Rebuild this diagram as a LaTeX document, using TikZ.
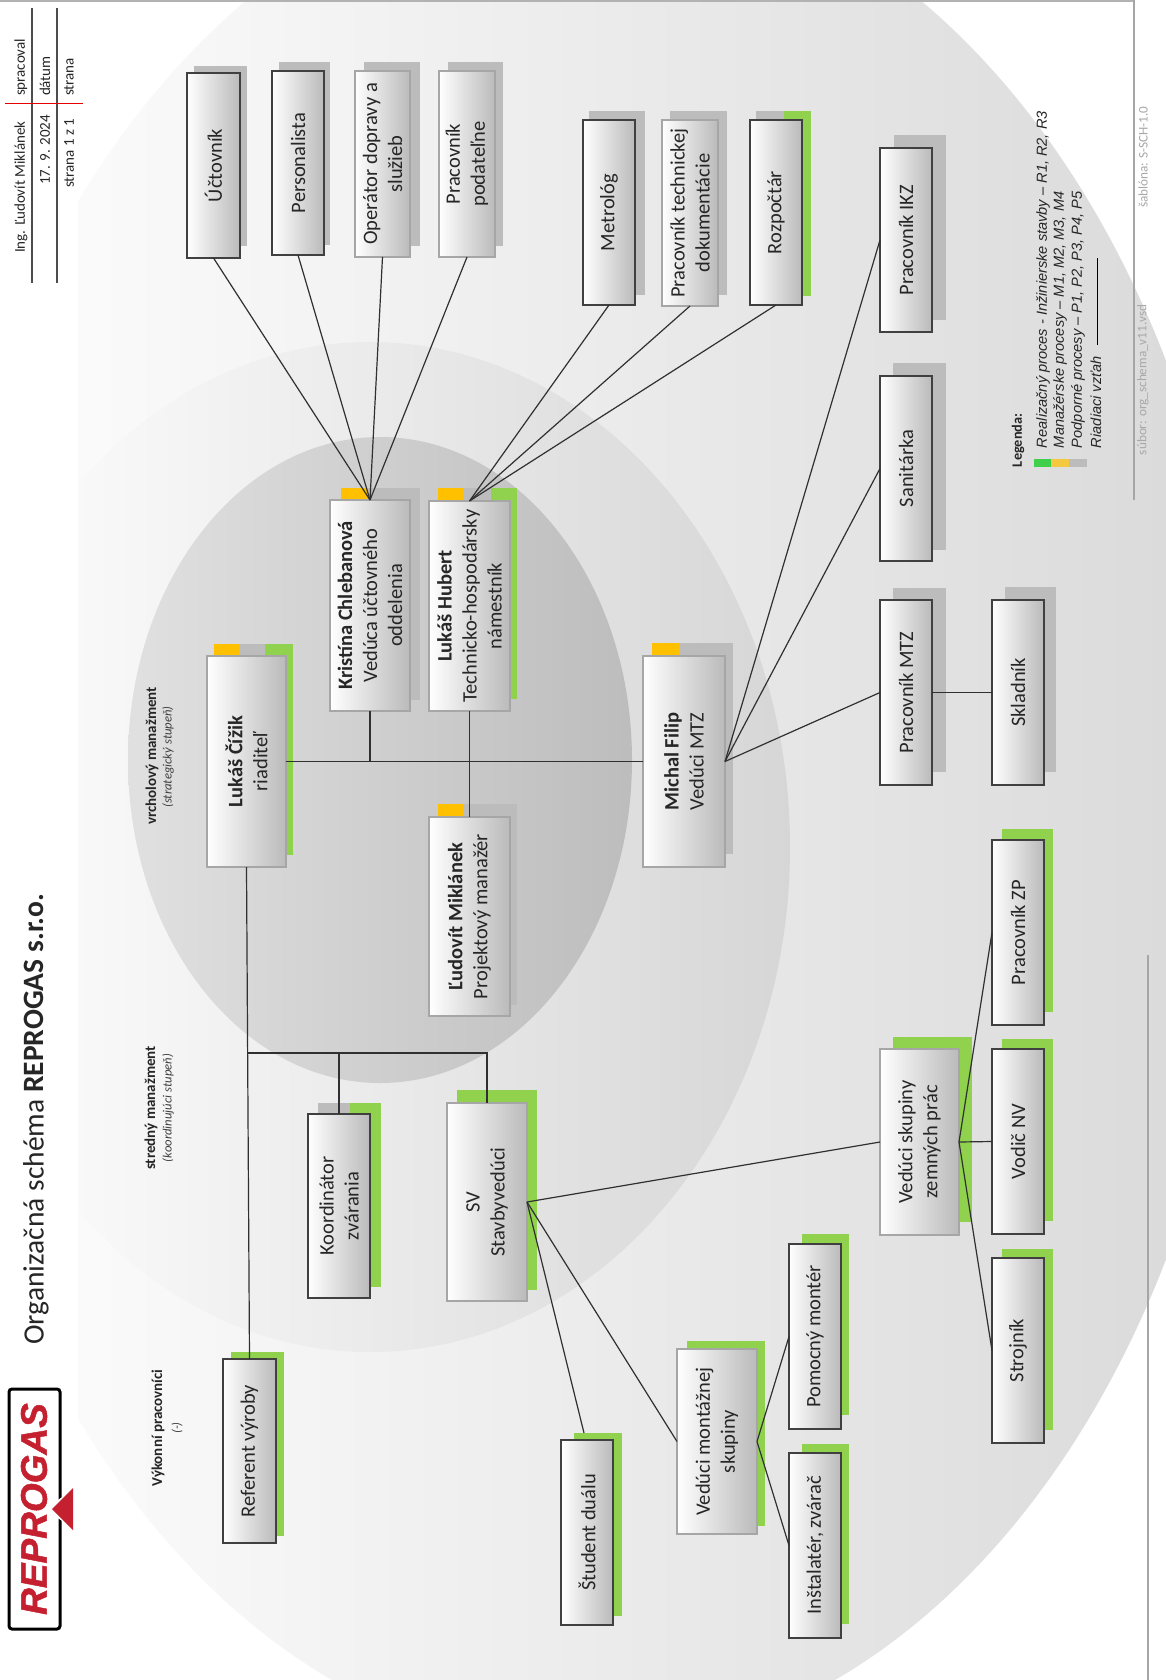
\documentclass[tikz,border=0pt]{standalone}
\usepackage{fontspec}
\setmainfont{Carlito}
\newfontfamily\legfont{Liberation Sans}
\newfontfamily\logofont[FakeBold=1.3]{Liberation Sans Bold Italic}
\definecolor{shgray}{HTML}{BCBCBC}
\definecolor{shgreen}{HTML}{90D14E}
\definecolor{shorange}{HTML}{FFC000}
\definecolor{logored}{HTML}{C4202F}
\definecolor{linedark}{HTML}{303030}
\definecolor{boxdark}{HTML}{404040}
\definecolor{boxlight}{HTML}{A6A6A6}
\definecolor{foot}{HTML}{A8A8A8}
\definecolor{leggreen}{HTML}{3FCF4A}
\definecolor{legyellow}{HTML}{F5C842}
\tikzset{
  boxbase/.style={rectangle,inner sep=0pt,outer sep=0pt,line width=1.2pt,left color=white,right color=black!27},
  darkbox/.style={boxbase,draw=boxdark},
  lightbox/.style={boxbase,draw=boxlight},
  boxtext/.style={rotate=90,align=center,text=black!85,font=\fontsize{20.5}{25}\selectfont},
  conn/.style={draw=linedark,line width=1.2pt},
  trunk/.style={draw=linedark,line width=1.5pt},
  txt/.style={rotate=90,inner sep=0pt,outer sep=0pt},
}
\newcommand{\orgbox}[7]{%
  \pgfmathsetmacro{\bw}{#4-#2}\pgfmathsetmacro{\bh}{#5-#3}%
  \node[#6,minimum width=\bw pt,minimum height=\bh pt,label={[boxtext]center:{#7}}] (#1) at ({(#2+#4)/2},{(#3+#5)/2}) {};}
\begin{document}
\begin{tikzpicture}[x=1pt,y=-1pt]
\useasboundingbox (0,0) rectangle (1166,1680);
\fill[white] (0,0) rectangle (1166,1680);
% background ellipses
\begin{scope}
\clip (78,0) rectangle (1166,1680);
\shade[left color=white,right color=black!15] (583.5,810) ellipse [x radius=663,y radius=940];
\shade[left color=white,middle color=black!6,right color=black!16] (370,847) ellipse [x radius=420,y radius=505];
\end{scope}
\shade[left color=black!12,right color=black!26] (380,760) ellipse [x radius=252,y radius=323];
% frame
\fill[black!30] (0,0) rectangle (1135,2);
\draw[black!35,line width=1.3pt] (1134,0) -- (1134,500);
\draw[black!35,line width=1.3pt] (1148,955) -- (1148,1680);
% header
\draw[black!70,line width=1.2pt] (32,8) -- (32,283);
\draw[black!70,line width=1.2pt] (57,8) -- (57,283);
\draw[red!90!black,line width=1pt] (5,104) -- (83,104);
\tikzset{hd/.style={txt,anchor=west,font=\fontsize{15}{16}\selectfont,text=black!85}}
\node[hd] (h1) at (21,96) {spracoval};
\node[hd] (h2) at (45,96) {dátum};
\node[hd] (h3) at (69,96) {strana};
\node[hd] (h4) at (21,253) {Ing. Ľudovít Miklánek};
\node[hd] (h5) at (45,185) {17. 9. 2024};
\node[hd] (h6) at (69,188) {strana 1 z 1};
% title
\node[txt,font=\fontsize{29.5}{34}\selectfont,text=black!85] (title) at (36,1119) {Organizačná schéma \textbf{REPROGAS s.r.o.}};
% logo
\draw[black,line width=3pt,rounded corners=3pt,fill=white] (9,1389) rectangle (60,1629);
\fill[white] (45,1509) -- (78,1486) -- (78,1532) -- cycle;
\fill[logored] (52,1509) -- (73,1488) -- (73,1530) -- cycle;
\node[txt,font=\logofont\fontsize{37}{40}\selectfont,text=logored] (logo) at (34,1509) {REPROGAS};
% level labels
\tikzset{lv/.style={txt,font=\bfseries\fontsize{15}{16}\selectfont,text=black!85},lvs/.style={txt,font=\itshape\fontsize{12.7}{14}\selectfont,text=black!75}}
\node[lv] (l1) at (152,756) {vrcholový manažment};
\node[lvs] (l2) at (168,757) {(strategický stupeň)};
\node[lv] (l3) at (151,1108) {stredný manažment};
\node[lvs] (l4) at (168,1108) {(koordinujúci stupeň)};
\node[lv] (l5) at (158,1428) {Výkonní pracovníci};
\node[lvs] (l6) at (177,1428) {(-)};
% shadows
\fill[shgray] (194,66) rectangle (247,246);
\fill[shgray] (279,62) rectangle (330,245);
\fill[shgray] (364,62) rectangle (420,246);
\fill[shgray] (448,62) rectangle (503,246);
\fill[shgray] (589,111) rectangle (645,295);
\fill[shgray] (670,111) rectangle (727,295);
\fill[shgray] (756,111) rectangle (785,140);
\fill[shgreen] (784,111) rectangle (811,296);
\fill[shgray] (894,135) rectangle (946,320);
\fill[shgray] (893,363) rectangle (946,550);
\fill[shgray] (893,588) rectangle (946,772);
\fill[shgray] (1005,587) rectangle (1056,772);
\fill[shgreen] (1002,829) rectangle (1053,1012);
\fill[shgreen] (1002,1039) rectangle (1053,1221);
\fill[shgreen] (1002,1249) rectangle (1053,1430);
\fill[shgreen] (893,1037) rectangle (972,1222);
\fill[shgreen] (802,1234) rectangle (849,1415);
\fill[shgreen] (802,1444) rectangle (849,1624);
\fill[shgreen] (687,1341) rectangle (765,1526);
\fill[shgreen] (574,1433) rectangle (622,1616);
\fill[shgreen] (231,1352) rectangle (284,1536);
\fill[shgreen] (457,1090) rectangle (537,1290);
\fill[shgray] (318,1103) rectangle (350,1130);
\fill[shgreen] (350,1103) rectangle (381,1287);
% Čížik
\fill[shgray] (240,644) rectangle (266,670);
\fill[shorange] (214,644) rectangle (240,670);
\fill[shgreen] (265,644) rectangle (293,855);
% Kristína
\fill[shgray] (368,488) rectangle (420,700);
\fill[shorange] (341,488) rectangle (368,510);
% Hubert
\fill[shgray] (464,488) rectangle (491,510);
\fill[shorange] (438,488) rectangle (464,510);
\fill[shgreen] (491,488) rectangle (517,699);
% Ľudovít
\fill[shgray] (464,804) rectangle (517,1005);
\fill[shorange] (438,804) rectangle (464,825);
% Michal
\fill[shgray] (680,643) rectangle (733,854);
\fill[shorange] (652,643) rectangle (680,670);
% boxes
\orgbox{uct}{187}{73}{240}{258}{darkbox}{Účtovník}
\orgbox{per}{272}{71}{324}{255}{darkbox}{Personalista}
\orgbox{ope}{355}{71}{410}{257}{lightbox}{Operátor dopravy a\\služieb}
\orgbox{pod}{439}{71}{495}{257}{lightbox}{Pracovník\\podateľne}
\orgbox{met}{583}{120}{635}{305}{darkbox}{Metrológ}
\orgbox{tec}{662}{120}{718}{306}{lightbox}{Pracovník technickej\\dokumentácie}
\orgbox{roz}{750}{120}{802}{305}{darkbox}{Rozpočtár}
\orgbox{ikz}{880}{148}{932}{332}{darkbox}{Pracovník IKZ}
\orgbox{san}{880}{376}{932}{561}{darkbox}{Sanitárka}
\orgbox{mtz}{880}{600}{932}{785}{darkbox}{Pracovník MTZ}
\orgbox{skl}{992}{600}{1044}{785}{darkbox}{Skladník}
\orgbox{zp}{992}{840}{1044}{1025}{darkbox}{Pracovník ZP}
\orgbox{vod}{992}{1049}{1044}{1234}{darkbox}{Vodič NV}
\orgbox{str}{992}{1258}{1044}{1443}{darkbox}{Strojník}
\orgbox{vsk}{880}{1049}{959}{1235}{lightbox}{Vedúci skupiny\\zemných prác}
\orgbox{pom}{789}{1244}{841}{1429}{darkbox}{Pomocný montér}
\orgbox{ins}{789}{1453}{841}{1638}{darkbox}{Inštalatér, zvárač}
\orgbox{vmo}{677}{1349}{757}{1534}{lightbox}{Vedúci montážnej\\skupiny}
\orgbox{stu}{561}{1440}{613}{1625}{darkbox}{Študent duálu}
\orgbox{ref}{223}{1359}{276}{1543}{darkbox}{Referent výroby}
\orgbox{sv}{447}{1103}{527}{1301}{lightbox}{SV\\Stavbyvedúci}
\orgbox{koo}{308}{1114}{370}{1298}{darkbox}{Koordinátor\\zvárania}
\orgbox{cik}{207}{656}{286}{867}{lightbox}{\textbf{Lukáš Čížik}\\riaditeľ}
\orgbox{kri}{330}{500}{410}{711}{lightbox}{\textbf{Kristína Chlebanová}\\Vedúca účtovného\\oddelenia}
\orgbox{hub}{429}{501}{510}{711}{lightbox}{\textbf{Lukáš Hubert}\\Technicko-hospodársky\\námestník}
\orgbox{lud}{429}{817}{510}{1016}{lightbox}{\textbf{Ľudovít Miklánek}\\Projektový manažér}
\orgbox{mic}{643}{656}{725}{867}{lightbox}{\textbf{Michal Filip}\\Vedúci MTZ}
% connectors
\coordinate (br) at (246.5,1053);
\coordinate (stutop) at (584,1433);
\draw[trunk] (cik.east) -- (mic.west);
\draw[conn] (kri.south) -- (kri.south |- cik.east);
\draw[conn] (hub.south) -- (lud.north);
\draw[conn] (cik.south) -- (ref.north);
\draw[conn] (br) -- (br -| sv.north) -- (sv.north);
\draw[conn] (koo.north) -- (koo.north |- br);
\draw[conn] (kri.north) -- (uct.south);
\draw[conn] (kri.north) -- (per.south);
\draw[conn] (kri.north) -- (ope.south);
\draw[conn] (kri.north) -- (pod.south);
\draw[conn] (hub.north) -- (met.south);
\draw[conn] (hub.north) -- (tec.south);
\draw[conn] (hub.north) -- (roz.south);
\draw[conn] (mic.east) -- (ikz.west);
\draw[conn] (mic.east) -- (san.west);
\draw[conn] (mic.east) -- (mtz.west);
\draw[conn] (mtz.east) -- (skl.west);
\draw[conn] (sv.east) -- (vsk.west);
\draw[conn] (sv.east) -- (vmo.west);
\draw[conn] (sv.east) -- (stutop);
\draw[conn] (vsk.east) -- (zp.west);
\draw[conn] (vsk.east) -- (vod.west);
\draw[conn] (vsk.east) -- (str.west);
\draw[conn] (vmo.east) -- (pom.west);
\draw[conn] (vmo.east) -- (ins.west);
% legend
\tikzset{lg/.style={txt,anchor=west,font=\legfont\itshape\fontsize{14.6}{16}\selectfont,text=black!85}}
\node[txt,anchor=west,font=\bfseries\fontsize{14.3}{16}\selectfont,text=black!85] (lgt) at (1018,467) {Legenda:};
\fill[leggreen] (1034,459) rectangle (1051,467);
\fill[legyellow] (1051,459) rectangle (1069,467);
\fill[shgray] (1069,459) rectangle (1087,467);
\node[lg] (lg1) at (1043,448) {Realizačný proces - Inžinierske stavby – R1, R2, R3};
\node[lg] (lg2) at (1060,448) {Manažérske procesy – M1, M2, M3, M4};
\node[lg] (lg3) at (1078,448) {Podporné procesy – P1, P2, P3, P4, P5};
\node[lg] (lg4) at (1096,448) {Riadiaci vzťah};
\coordinate (lga) at (1097,345);\coordinate (lgb) at (1097,258);
\draw[black,line width=1pt] (lga) -- (lgb);
% footer
\tikzset{ft/.style={txt,anchor=west,font=\fontsize{13.2}{15}\selectfont,text=foot}}
\node[ft] (f1) at (1143,208) {šablóna: S-SCH-1.0};
\node[ft] (f2) at (1143,455) {súbor: org\_schema\_v11.vsd};
\end{tikzpicture}
\end{document}
